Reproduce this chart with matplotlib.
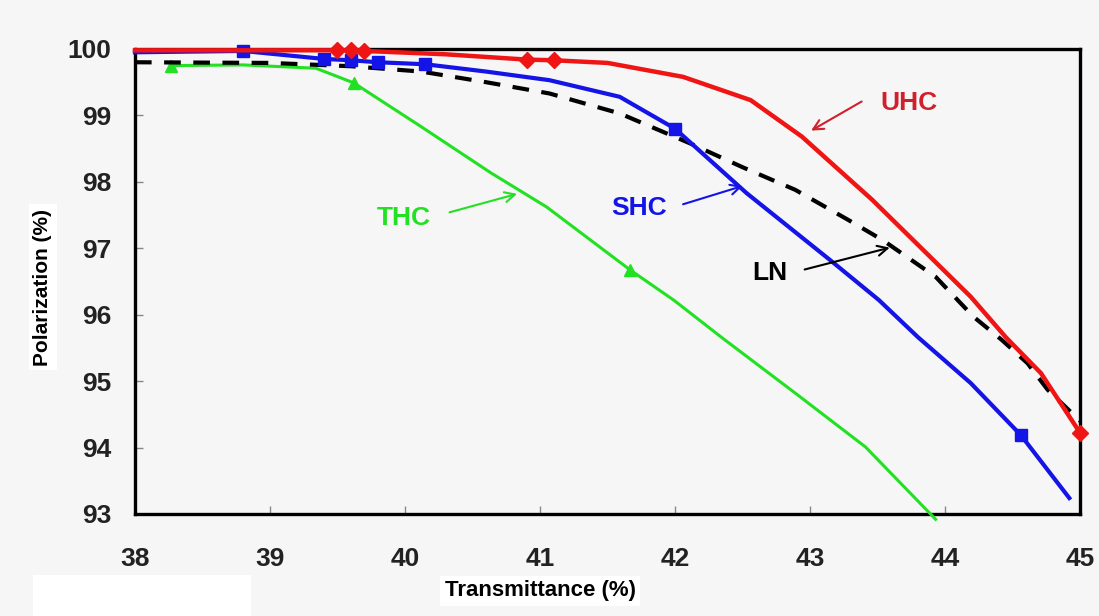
import matplotlib.pyplot as plt
from matplotlib.patches import Rectangle

# transmittance (%) vs polarization (%) for four polarizer grades
uhc_x = [38.0, 38.8, 39.5, 39.6, 39.7, 40.3, 40.9, 41.1, 41.5, 42.06, 42.56, 42.94, 43.46, 44.19, 44.45, 44.71, 45.0]
uhc_y = [99.98, 99.98, 99.98, 99.98, 99.97, 99.92, 99.84, 99.83, 99.79, 99.58, 99.23, 98.68, 97.73, 96.27, 95.66, 95.12, 94.22]
uhc_marks = [2, 3, 4, 6, 7, 16]

shc_x = [38.0, 38.8, 39.4, 39.6, 39.8, 40.15, 40.6, 41.07, 41.59, 42.0, 42.53, 43.15, 43.51, 43.8, 44.19, 44.56, 44.92]
shc_y = [99.95, 99.97, 99.85, 99.83, 99.8, 99.77, 99.66, 99.53, 99.28, 98.8, 97.83, 96.82, 96.22, 95.66, 94.97, 94.19, 93.24]
shc_marks = [1, 2, 3, 4, 5, 9, 15]

ln_x = [38.0, 39.0, 39.6, 40.12, 40.6, 41.07, 41.59, 42.11, 42.5, 42.89, 43.28, 43.54, 43.93, 44.21, 44.42, 44.61, 44.76, 45.0]
ln_y = [99.8, 99.79, 99.74, 99.66, 99.5, 99.33, 99.03, 98.58, 98.22, 97.88, 97.43, 97.12, 96.57, 95.97, 95.62, 95.27, 94.87, 94.4]

thc_x = [38.27, 38.8, 39.34, 39.62, 40.12, 40.64, 41.05, 41.67, 41.99, 42.35, 42.89, 43.41, 43.93]
thc_y = [99.75, 99.76, 99.71, 99.49, 98.83, 98.13, 97.62, 96.67, 96.22, 95.65, 94.82, 94.01, 92.92]
thc_marks = [0, 3, 7]

xticks = [38, 39, 40, 41, 42, 43, 44, 45]
yticks = [93, 94, 95, 96, 97, 98, 99, 100]

bg = '#f6f6f6'
red = '#f01515'
blue = '#1414e6'
green = '#22e022'

plt.rcParams['font.family'] = ['Liberation Sans', 'DejaVu Sans']

fig = plt.figure(figsize=(10.99, 6.16), dpi=100, facecolor=bg)
ax = fig.add_axes([0.1228, 0.1656, 0.86, 0.7549], facecolor=bg)

# blank white patch in the lower left corner
fig.patches.append(Rectangle((33/1099, 0), 218/1099, 41/616, transform=fig.transFigure,
                             facecolor='white', edgecolor='none', zorder=0))

ax.plot(thc_x, thc_y, color=green, lw=2.2, marker='^', ms=9, markevery=thc_marks,
        clip_on=False, zorder=3)
ax.plot(shc_x, shc_y, color=blue, lw=3.0, marker='s', ms=9, markevery=shc_marks,
        clip_on=False, zorder=4)
ax.plot(ln_x, ln_y, color='black', lw=3.0, ls=(0, (4, 3)), clip_on=False, zorder=3)
ax.plot(uhc_x, uhc_y, color=red, lw=3.2, marker='D', ms=8, markevery=uhc_marks,
        clip_on=False, zorder=5)

ax.set_xlim(38, 45)
ax.set_ylim(93, 100)
ax.set_xticks(xticks)
ax.set_yticks(yticks)
ax.tick_params(direction='in', length=6, width=1, color='#888888', labelsize=19)
ax.tick_params(axis='x', pad=24)
ax.tick_params(axis='y', pad=17)
for lab in ax.get_xticklabels() + ax.get_yticklabels():
    lab.set_fontweight('bold')
    lab.set_color('#222222')
for s in ax.spines.values():
    s.set_linewidth(2.4)
    s.set_color('black')

ax.set_xlabel('Transmittance (%)', family=['Liberation Sans Narrow', 'Liberation Sans'],
              fontsize=16, fontweight='bold',
              bbox=dict(facecolor='white', edgecolor='none', pad=3))
ax.set_ylabel('Polarization (%)', family=['Liberation Sans Narrow', 'Liberation Sans'],
              fontsize=15, fontweight='bold',
              bbox=dict(facecolor='white', edgecolor='none', pad=3))
ax.xaxis.set_label_coords(0.4286, -0.1656)
ax.yaxis.set_label_coords(-0.0974, 0.488)
ax.xaxis.label.set_va('center')
ax.yaxis.label.set_va('center')

# curve labels with arrows
notes = [
    ('UHC', (43.73, 99.19), (43.4, 99.23), (42.99, 98.75), '#d0202e'),
    ('SHC', (41.73, 97.6), (42.04, 97.65), (42.52, 97.95), blue),
    ('LN', (42.7, 96.63), (42.94, 96.67), (43.61, 97.02), 'black'),
    ('THC', (39.99, 97.46), (40.31, 97.53), (40.85, 97.83), green),
]
for txt, pos, start, tip, col in notes:
    ax.text(pos[0], pos[1], txt, color=col, fontsize=19, fontweight='bold',
            ha='center', va='center', zorder=6)
    ax.annotate('', xy=tip, xytext=start,
                arrowprops=dict(arrowstyle='->', color=col, lw=1.5,
                                mutation_scale=18), zorder=6)

fig.savefig('out.png', dpi=100, facecolor=bg)
